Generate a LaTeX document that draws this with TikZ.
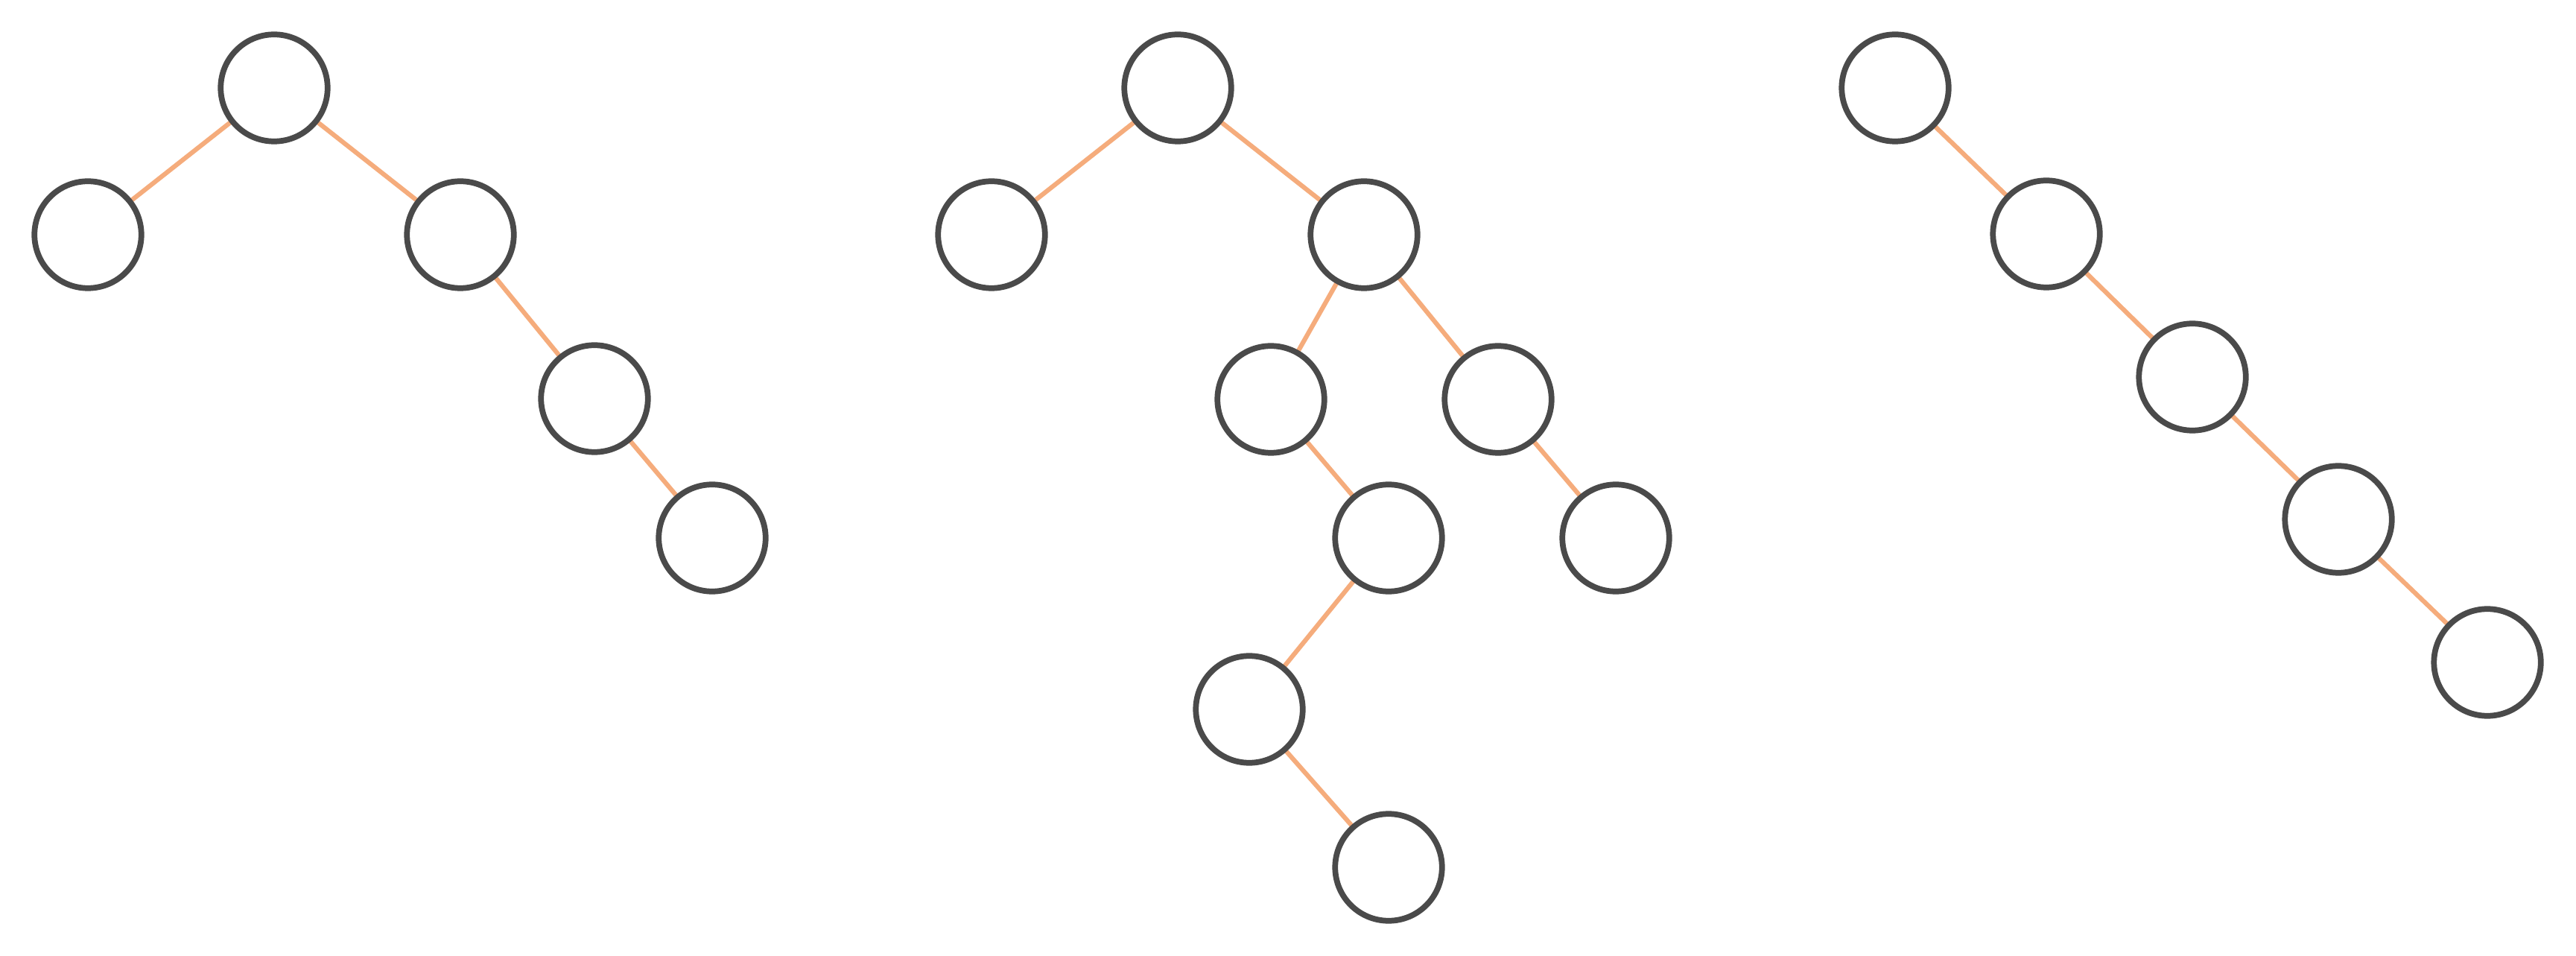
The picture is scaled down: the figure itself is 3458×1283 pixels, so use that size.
\documentclass[tikz,border=0pt]{standalone}
\usetikzlibrary{backgrounds}
\definecolor{nodegray}{HTML}{4A4A4A}
\definecolor{edgeorange}{HTML}{F5AC7C}
\begin{document}
\begin{tikzpicture}[x=0.01cm,y=-0.01cm,
  tnode/.style={circle,draw=nodegray,line width=2.2pt,fill=white,minimum size=1.434cm,inner sep=0pt,outer sep=0pt},
  tedge/.style={draw=edgeorange,line width=1.75pt,line cap=round}]
\useasboundingbox (0,0) rectangle (3458,1283);
% tree 1
\node[tnode] (a1) at (368,118) {};
\node[tnode] (a2) at (118,315) {};
\node[tnode] (a3) at (618,315) {};
\node[tnode] (a4) at (798,535) {};
\node[tnode] (a5) at (956,722) {};
% tree 2
\node[tnode] (b1) at (1581,118) {};
\node[tnode] (b2) at (1331,315) {};
\node[tnode] (b3) at (1831,315) {};
\node[tnode] (b4) at (1706,536) {};
\node[tnode] (b5) at (2011,536) {};
\node[tnode] (b6) at (1864,722) {};
\node[tnode] (b7) at (2169,722) {};
\node[tnode] (b8) at (1677,952) {};
\node[tnode] (b9) at (1864,1164) {};
% tree 3
\node[tnode] (c1) at (2544,118) {};
\node[tnode] (c2) at (2747,314) {};
\node[tnode] (c3) at (2943,506) {};
\node[tnode] (c4) at (3139,697) {};
\node[tnode] (c5) at (3339,889) {};
\begin{scope}[on background layer]
\draw[tedge] (a1.center) -- (a2.center);
\draw[tedge] (a1.center) -- (a3.center);
\draw[tedge] (a3.center) -- (a4.center);
\draw[tedge] (a4.center) -- (a5.center);
\draw[tedge] (b1.center) -- (b2.center);
\draw[tedge] (b1.center) -- (b3.center);
\draw[tedge] (b3.center) -- (b4.center);
\draw[tedge] (b3.center) -- (b5.center);
\draw[tedge] (b4.center) -- (b6.center);
\draw[tedge] (b5.center) -- (b7.center);
\draw[tedge] (b6.center) -- (b8.center);
\draw[tedge] (b8.center) -- (b9.center);
\draw[tedge] (c1.center) -- (c2.center);
\draw[tedge] (c2.center) -- (c3.center);
\draw[tedge] (c3.center) -- (c4.center);
\draw[tedge] (c4.center) -- (c5.center);
\end{scope}
\end{tikzpicture}
\end{document}
